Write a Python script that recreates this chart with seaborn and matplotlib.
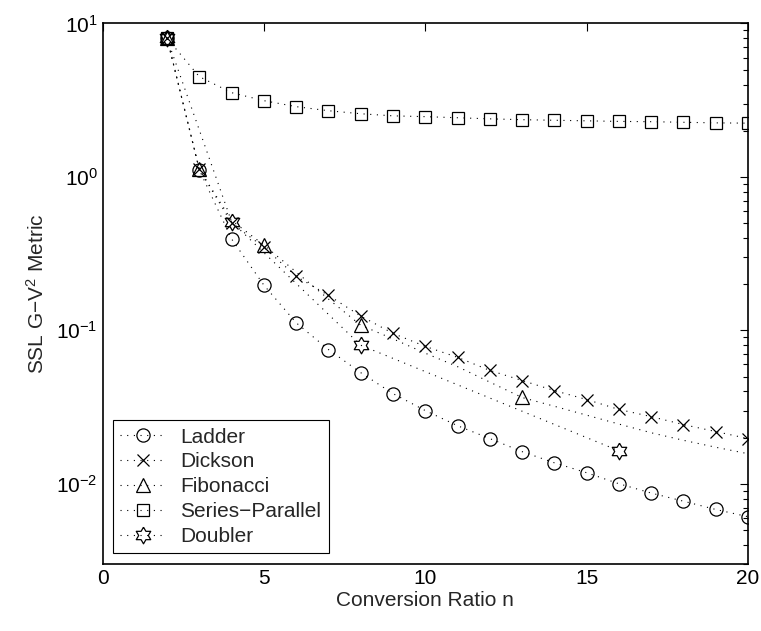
import numpy as np
import pandas as pd
import seaborn as sns
import matplotlib.pyplot as plt
from matplotlib.lines import Line2D

# ==== Data ====
n_all = list(range(2, 21))
ladder = [8.1, 1.11, 0.394, 0.197, 0.112, 0.075, 0.053, 0.0387, 0.030, 0.0239,
          0.0197, 0.0162, 0.0137, 0.0118, 0.0100, 0.0087, 0.0077, 0.0068, 0.0061]
dickson = [8.0, 1.12, 0.50, 0.348, 0.225, 0.169, 0.124, 0.0955, 0.0786, 0.0667,
           0.0548, 0.0471, 0.0405, 0.0354, 0.0305, 0.0274, 0.0243, 0.0219, 0.0197]
series_parallel = [8.0, 4.5, 3.54, 3.14, 2.87, 2.70, 2.58, 2.50, 2.47, 2.43,
                   2.39, 2.36, 2.34, 2.32, 2.30, 2.29, 2.27, 2.25, 2.24]
# Fibonacci: dotted curve over every n, markers only at Fibonacci numbers
fib_curve = [8.0, 1.12, 0.52, 0.36, 0.24, 0.16, 0.108, 0.088, 0.071, 0.058,
             0.046, 0.0365, 0.032, 0.028, 0.0245, 0.0215, 0.0192, 0.0173, 0.0157]
fib_n = [2, 3, 5, 8, 13]
fib_vals = [8.0, 1.12, 0.36, 0.108, 0.0365]
doubler_n = [2, 4, 8, 16]
doubler_vals = [8.0, 0.51, 0.08, 0.0164]

# hexagram marker (MATLAB 'h'), closed outline
ang = np.deg2rad(np.arange(90, 450, 30))
rad = np.where(np.arange(12) % 2 == 0, 1.0, 1 / np.sqrt(3))
hexagram = list(zip(rad * np.cos(ang), rad * np.sin(ang)))
hexagram.append(hexagram[0])

sns.set_style("white")
plt.rcParams['font.family'] = ['Liberation Sans', 'DejaVu Sans']
plt.rcParams['mathtext.fontset'] = 'custom'
plt.rcParams['mathtext.rm'] = 'Liberation Sans'
plt.rcParams['mathtext.it'] = 'Liberation Sans:italic'
plt.rcParams['axes.unicode_minus'] = True

fig = plt.figure(figsize=(7.61, 6.31), dpi=100)
ax = fig.add_axes([0.1347, 0.1062, 0.9829 - 0.1347, 0.9628 - 0.1062])

dot = (0, (1, 5))
lw = 0.8
mk = dict(color='k', mfc='none', mec='k', mew=0.9)

df = pd.DataFrame({"n": n_all, "Ladder": ladder, "Dickson": dickson,
                   "Series-Parallel": series_parallel, "Fib": fib_curve})

sns.lineplot(data=df, x="n", y="Ladder", ax=ax, lw=lw, linestyle=dot,
             marker='o', ms=9.5, **mk)
sns.lineplot(data=df, x="n", y="Dickson", ax=ax, lw=lw, linestyle=dot,
             marker='x', ms=8, **mk)
sns.lineplot(data=df, x="n", y="Fib", ax=ax, lw=lw, linestyle=dot, color='k')
sns.lineplot(x=fib_n, y=fib_vals, ax=ax, lw=0, marker='^', ms=10, **mk)
sns.lineplot(data=df, x="n", y="Series-Parallel", ax=ax, lw=lw, linestyle=dot,
             marker='s', ms=8, **mk)
sns.lineplot(x=doubler_n, y=doubler_vals, ax=ax, lw=lw, linestyle=dot,
             marker=hexagram, ms=12, **mk)

ax.set_yscale('log')
ax.set_xlim(0, 20)
ax.set_ylim(0.003, 10)
ax.set_xticks([0, 5, 10, 15, 20])
ax.set_xlabel("Conversion Ratio n", fontsize=15, labelpad=2)
ax.set_ylabel("SSL G\u2212V$^2$ Metric", fontsize=15, labelpad=6)

for s in ax.spines.values():
    s.set_color('k')
    s.set_linewidth(1.2)
ax.tick_params(axis='both', which='both', direction='in', top=True, right=True,
               labelsize=15, colors='k')
ax.tick_params(which='major', length=6, width=0.8)
ax.tick_params(which='minor', length=3.5, width=0.8)
ax.tick_params(axis='x', which='minor', bottom=False, top=False)

labels = ["Ladder", "Dickson", "Fibonacci", "Series\u2212Parallel", "Doubler"]
markers = ['o', 'x', '^', 's', hexagram]
sizes = [9.5, 8, 10, 8, 12]
handles = [Line2D([], [], lw=lw, linestyle=dot, marker=m, ms=s, **mk)
           for m, s in zip(markers, sizes)]
leg = ax.legend(handles, labels, loc='lower left', bbox_to_anchor=(0.016, 0.02),
                fontsize=15, frameon=True, fancybox=False, framealpha=1,
                edgecolor='k', handlelength=2.2, handletextpad=0.7,
                labelspacing=0.28, borderpad=0.35, borderaxespad=0)
leg.get_frame().set_linewidth(0.8)

fig.savefig("out.png", dpi=100)
